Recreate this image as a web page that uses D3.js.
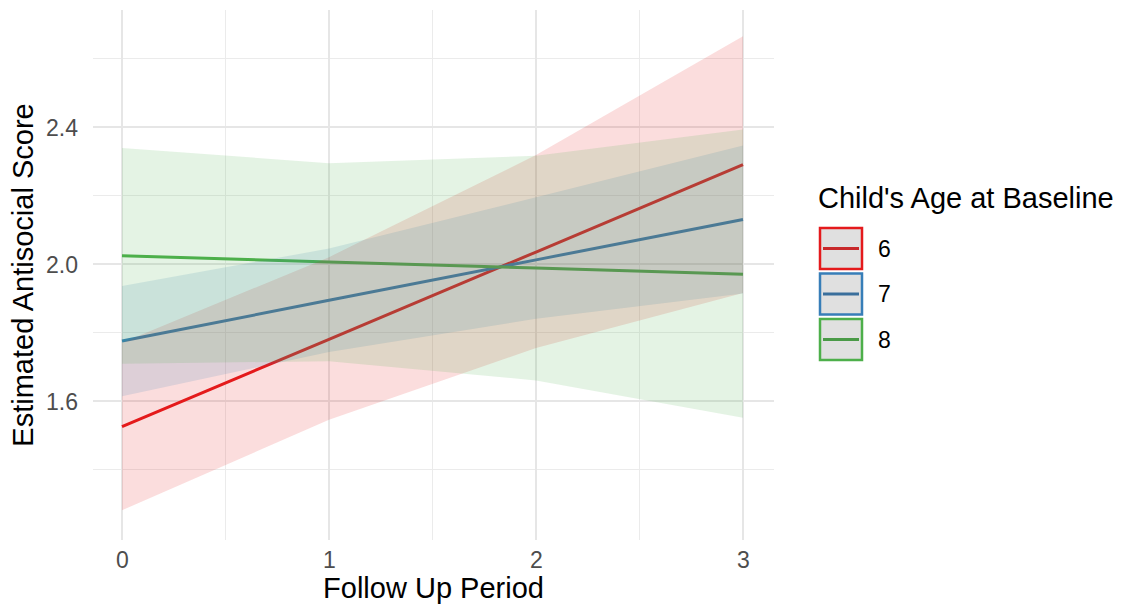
<!DOCTYPE html>
<html><head><meta charset="utf-8">
<script src="https://cdn.jsdelivr.net/npm/d3@7"></script>
<style>body{margin:0;background:#fff;} text{font-family:"Liberation Sans",Arial,Helvetica,sans-serif;}</style>
</head><body><svg id="c" width="1128" height="612"></svg>
<script>
const followUp = [0, 1, 2, 3];
const groups = ["6", "7", "8"];
const colors = ["#E41A1C", "#377EB8", "#4DAF4A"];
const est6 = [1.525, 1.780, 2.035, 2.290];
const lo6  = [1.281, 1.545, 1.755, 1.915];
const hi6  = [1.770, 2.020, 2.318, 2.665];
const est7 = [1.775, 1.894, 2.012, 2.130];
const lo7  = [1.614, 1.743, 1.840, 1.914];
const hi7  = [1.936, 2.045, 2.195, 2.346];
const est8 = [2.024, 2.006, 1.988, 1.970];
const lo8  = [1.709, 1.716, 1.660, 1.551];
const hi8  = [2.339, 2.294, 2.316, 2.393];
const xTicks = [0, 1, 2, 3];
const xMinor = [0.5, 1.5, 2.5];
const yTicks = [1.6, 2.0, 2.4];
const yMinor = [1.4, 1.8, 2.2, 2.6];

const series = [
  {name: groups[0], color: colors[0], est: est6, lo: lo6, hi: hi6},
  {name: groups[1], color: colors[1], est: est7, lo: lo7, hi: hi7},
  {name: groups[2], color: colors[2], est: est8, lo: lo8, hi: hi8}
];

const svg = d3.select("#c");
const panel = {left: 93, right: 774, top: 10, bottom: 540};
const x = d3.scaleLinear().domain([0, 3]).range([122, 743]);
const y = d3.scaleLinear().domain([1.6, 2.4]).range([401, 127]);

const grid = svg.append("g");
yMinor.forEach(v => grid.append("line").attr("x1", panel.left).attr("x2", panel.right)
  .attr("y1", y(v)).attr("y2", y(v)).attr("stroke", "#ebebeb").attr("stroke-width", 1));
xMinor.forEach(v => grid.append("line").attr("y1", panel.top).attr("y2", panel.bottom)
  .attr("x1", x(v)).attr("x2", x(v)).attr("stroke", "#ebebeb").attr("stroke-width", 1));
yTicks.forEach(v => grid.append("line").attr("x1", panel.left).attr("x2", panel.right)
  .attr("y1", y(v)).attr("y2", y(v)).attr("stroke", "#e6e6e6").attr("stroke-width", 2));
xTicks.forEach(v => grid.append("line").attr("y1", panel.top).attr("y2", panel.bottom)
  .attr("x1", x(v)).attr("x2", x(v)).attr("stroke", "#e6e6e6").attr("stroke-width", 2));

const line = d3.line().x((d, i) => x(followUp[i])).y(d => y(d));
series.forEach(s => {
  svg.append("path").datum(s.est).attr("d", line).attr("fill", "none")
    .attr("stroke", s.color).attr("stroke-width", 3);
});
const area = d3.area().x((d, i) => x(followUp[i])).y0(d => y(d[0])).y1(d => y(d[1]));
series.forEach(s => {
  const pts = s.lo.map((l, i) => [l, s.hi[i]]);
  svg.append("path").datum(pts).attr("d", area).attr("fill", s.color).attr("fill-opacity", 0.15);
});

const xAxis = d3.axisBottom(x).tickValues(xTicks).tickSize(0).tickFormat(d3.format("d"));
const gx = svg.append("g").attr("transform", `translate(0,${panel.bottom + 9})`).call(xAxis);
gx.select(".domain").remove();
gx.selectAll("text").attr("font-size", 23).attr("fill", "#4d4d4d").attr("dy", "0.71em");

const yAxis = d3.axisLeft(y).tickValues(yTicks).tickSize(0).tickFormat(d3.format(".1f"));
const gy = svg.append("g").attr("transform", `translate(${panel.left - 12},0)`).call(yAxis);
gy.select(".domain").remove();
gy.selectAll("text").attr("font-size", 23).attr("fill", "#4d4d4d").attr("dy", "0.35em");

svg.append("text").attr("x", (panel.left + panel.right) / 2).attr("y", 598)
  .attr("text-anchor", "middle").attr("font-size", 29).attr("fill", "#000").text("Follow Up Period");
svg.append("text").attr("transform", `translate(33,${(panel.top + panel.bottom) / 2}) rotate(-90)`)
  .attr("text-anchor", "middle").attr("font-size", 29).attr("fill", "#000").text("Estimated Antisocial Score");

const lg = svg.append("g");
lg.append("text").attr("x", 818).attr("y", 208).attr("font-size", 29).attr("fill", "#000")
  .text("Child's Age at Baseline");
const keyLineColors = ["#c8292b", "#3a6f9c", "#4a9a47"];
series.forEach((s, i) => {
  const ky = 228 + i * 45.5;
  lg.append("rect").attr("x", 820).attr("y", ky).attr("width", 42).attr("height", 41)
    .attr("fill", "#e0e0e0").attr("stroke", s.color).attr("stroke-width", 2.5);
  lg.append("line").attr("x1", 823).attr("x2", 859).attr("y1", ky + 20.5).attr("y2", ky + 20.5)
    .attr("stroke", keyLineColors[i]).attr("stroke-width", 3);
  lg.append("text").attr("x", 878).attr("y", ky + 20.5).attr("dy", "0.35em").attr("font-size", 23)
    .attr("fill", "#000").text(s.name);
});
</script></body></html>
